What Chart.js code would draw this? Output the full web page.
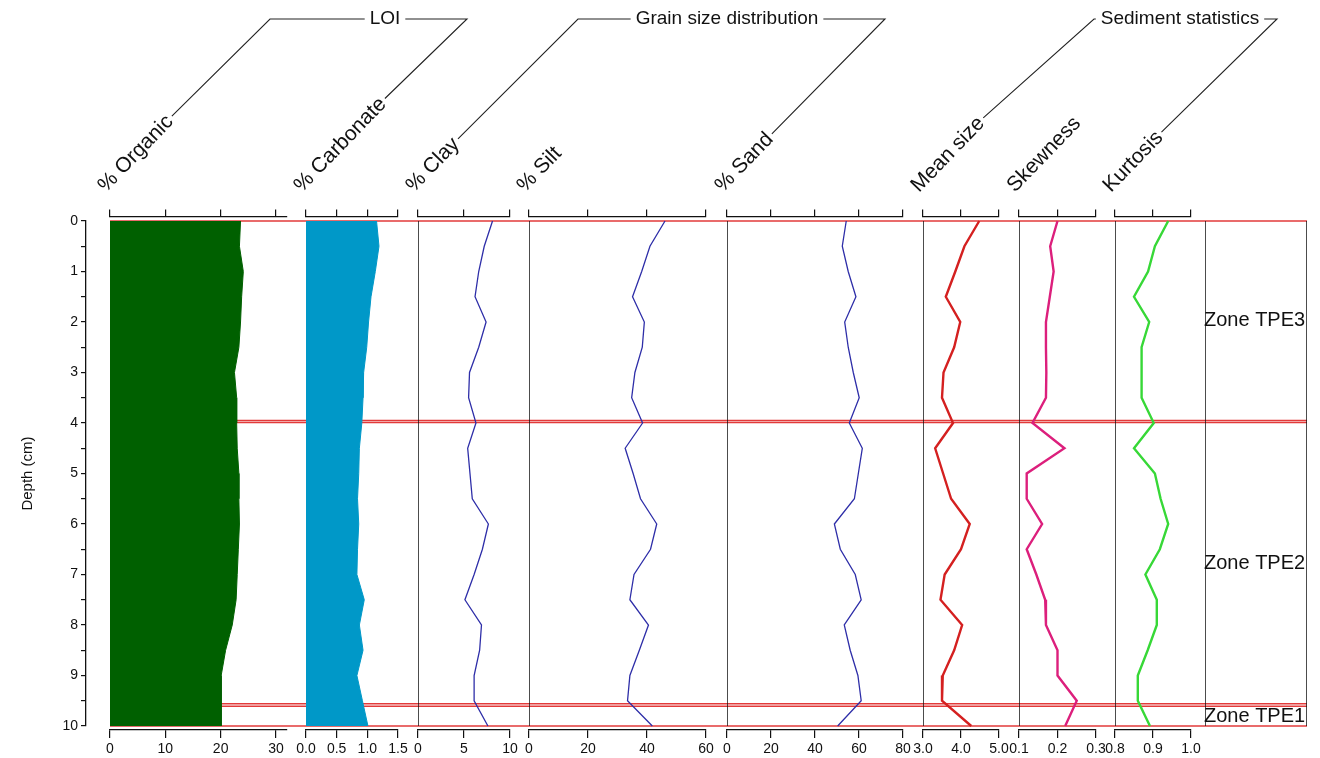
<!DOCTYPE html>
<html>
<head>
<meta charset="utf-8">
<script src="https://cdn.jsdelivr.net/npm/chart.js@4.4.0/dist/chart.umd.min.js"></script>
<style>
    html, body { margin: 0; padding: 0; background: #fff; }
    #wrap { position: relative; width: 1320px; height: 758px; overflow: hidden; }
    #wrap canvas { position: absolute; top: 0; }
</style>
</head>
<body>
<div id="wrap"></div>
<script>
// sample depths (cm)
const depths = [0, 0.5, 1, 1.5, 2, 2.5, 3, 3.5, 4, 4.5, 5, 5.5, 6, 6.5, 7, 7.5, 8, 8.5, 9, 9.5, 10];

// LOI
const organic = [23.6, 23.4, 24.1, 23.8, 23.6, 23.3, 22.5, 22.9, 22.9, 23.0, 23.3, 23.3, 23.4, 23.2, 23.0, 22.8, 22.1, 20.9, 20.1, 20.1, 20.1];
const carbonate = [1.15, 1.19, 1.13, 1.06, 1.02, 0.99, 0.94, 0.93, 0.91, 0.87, 0.86, 0.84, 0.86, 0.84, 0.83, 0.95, 0.87, 0.93, 0.83, 0.92, 1.01];

// Grain size distribution
const clay = [8.1, 7.2, 6.6, 6.2, 7.4, 6.6, 5.6, 5.5, 6.3, 5.4, 5.65, 5.9, 7.65, 7.0, 6.1, 5.1, 6.9, 6.7, 6.1, 6.1, 7.6];
const silt = [46.1, 41.0, 38.2, 35.1, 39.1, 38.4, 35.9, 34.8, 38.5, 32.6, 35.3, 37.8, 43.3, 41.2, 35.6, 34.2, 40.5, 37.4, 34.2, 33.4, 41.8];
const sand = [54.2, 52.4, 55.1, 58.6, 53.5, 55.1, 57.4, 60.1, 55.6, 61.5, 59.7, 57.9, 48.8, 51.5, 58.3, 61.0, 53.3, 56.0, 59.5, 61.0, 50.3];

// Sediment statistics
const meanSize = [4.48, 4.09, 3.85, 3.60, 3.98, 3.82, 3.54, 3.50, 3.79, 3.32, 3.53, 3.74, 4.23, 4.00, 3.57, 3.46, 4.03, 3.82, 3.52, 3.50, 4.27];
const skewness = [0.200, 0.181, 0.190, 0.180, 0.170, 0.170, 0.171, 0.170, 0.135, 0.218, 0.120, 0.120, 0.160, 0.120, 0.145, 0.168, 0.170, 0.200, 0.200, 0.250, 0.220];
const kurtosis = [0.940, 0.905, 0.887, 0.850, 0.890, 0.870, 0.870, 0.870, 0.902, 0.850, 0.905, 0.920, 0.940, 0.918, 0.880, 0.910, 0.910, 0.886, 0.860, 0.860, 0.892];

// zones (top / bottom depth, cm)
const zoneNames = ['Zone TPE3', 'Zone TPE2', 'Zone TPE1'];
const zoneTops = [0, 3.99, 9.61];
const zoneBottoms = [3.95, 9.56, 10];

const depthMin = 0, depthMax = 10, depthStep = 0.5;

// --- layout ---
const PAGE_W = 1320, PAGE_H = 758;
const DEPTH_TOP = 221, DEPTH_BOTTOM = 726;      // pixel rows of 0 cm and 10 cm
const AREA_TOP = 216.5, AREA_BOTTOM = 730;      // where the panel axes sit
const TOP_AXIS_H = 10, BOTTOM_AXIS_H = PAGE_H - AREA_BOTTOM;
const SIDE = 24;
const pxPerCm = (DEPTH_BOTTOM - DEPTH_TOP) / (depthMax - depthMin);
const yLow = depthMin - (DEPTH_TOP - AREA_TOP) / pxPerCm;
const yHigh = depthMax + (AREA_BOTTOM - DEPTH_BOTTOM) / pxPerCm;

const FONT = "Arial, 'Liberation Sans', sans-serif";
const INK = '#111';
const BLUE = '#2e2ea8';
const ZONE_RED = '#e23a3a';

const panels = [
    { title: '% Organic', values: organic, min: 0, max: 32, step: 10, digits: 0, left: 110, right: 287, color: '#006000', fill: true, width: 1, frame: false },
    { title: '% Carbonate', values: carbonate, min: 0, max: 1.5, step: 0.5, digits: 1, left: 306, right: 398, color: '#0098c8', fill: true, width: 1, frame: false },
    { title: '% Clay', values: clay, min: 0, max: 10, step: 5, digits: 0, left: 418, right: 510, color: BLUE, fill: false, width: 1.3, frame: true },
    { title: '% Silt', values: silt, min: 0, max: 60, step: 20, digits: 0, left: 529, right: 706, color: BLUE, fill: false, width: 1.3, frame: true },
    { title: '% Sand', values: sand, min: 0, max: 80, step: 20, digits: 0, left: 727, right: 903, color: BLUE, fill: false, width: 1.3, frame: true },
    { title: 'Mean size', values: meanSize, min: 3, max: 5, step: 1, digits: 1, left: 923, right: 999, color: '#d42020', fill: false, width: 2.4, frame: true },
    { title: 'Skewness', values: skewness, min: 0.1, max: 0.3, step: 0.1, digits: 1, left: 1019, right: 1096, color: '#dc1f7c', fill: false, width: 2.4, frame: true },
    { title: 'Kurtosis', values: kurtosis, min: 0.8, max: 1.0, step: 0.1, digits: 1, left: 1115, right: 1191, color: '#37d837', fill: false, width: 2.4, frame: true }
];
const ZONE_LEFT = 1205, ZONE_RIGHT = 1307;

// header groups (title + the panels it joins)
const groups = [
    { title: 'LOI', first: 0, last: 1, cx: 385, cornerL: 270, cornerR: 467 },
    { title: 'Grain size distribution', first: 2, last: 4, cx: 727, cornerL: 578, cornerR: 885 },
    { title: 'Sediment statistics', first: 5, last: 7, cx: 1180, cornerL: 1094, cornerR: 1277 }
];
const LABEL_BASE_Y = 193, LABEL_DX = -4, LABEL_ANGLE = -46 * Math.PI / 180, TITLE_Y = 19;

const wrap = document.getElementById('wrap');

function makeCanvas(left, width) {
    const c = document.createElement('canvas');
    c.width = width;
    c.height = PAGE_H;
    c.style.left = left + 'px';
    c.style.width = width + 'px';
    c.style.height = PAGE_H + 'px';
    wrap.appendChild(c);
    return c;
}

function depthScale() {
    return { type: 'linear', reverse: true, min: yLow, max: yHigh, display: false };
}

function panelAxis(p, position) {
    const bottom = position === 'bottom';
    return {
        type: 'linear',
        position: position,
        min: p.min,
        max: p.max,
        border: { color: INK, width: 1.2 },
        grid: { drawOnChartArea: false, drawTicks: true, tickLength: bottom ? 8 : 7, color: INK, lineWidth: 1.2 },
        ticks: {
            display: bottom,
            stepSize: p.step,
            includeBounds: false,
            autoSkip: false,
            maxRotation: 0,
            padding: 3,
            color: INK,
            font: { family: FONT, size: 14 },
            callback: v => Number(v).toFixed(p.digits)
        },
        afterFit: s => {
            s.height = bottom ? BOTTOM_AXIS_H : TOP_AXIS_H;
            s.paddingLeft = 0;
            s.paddingRight = 0;
        }
    };
}

const baseOptions = {
    responsive: false,
    animation: false,
    events: [],
    plugins: { legend: { display: false }, tooltip: { enabled: false } }
};

// --- frame: zone boundary lines and the header ---
const headerPlugin = {
    id: 'header',
    afterDraw(chart) {
        const ctx = chart.ctx;
        ctx.save();
        ctx.fillStyle = '#111';
        ctx.strokeStyle = '#222';
        ctx.lineWidth = 1.1;
        ctx.font = '21px ' + FONT;
        const ends = panels.map(p => {
            const ax = p.left + LABEL_DX, ay = LABEL_BASE_Y;
            ctx.save();
            ctx.translate(ax, ay);
            ctx.rotate(LABEL_ANGLE);
            ctx.textAlign = 'left';
            ctx.textBaseline = 'alphabetic';
            ctx.fillText(p.title, 0, 0);
            ctx.restore();
            const w = ctx.measureText(p.title).width + 3;
            const c = Math.cos(LABEL_ANGLE), s = Math.sin(LABEL_ANGLE);
            return { x: ax + w * c + 6 * s, y: ay + w * s - 6 * c };
        });
        ctx.font = '19px ' + FONT;
        ctx.textAlign = 'center';
        ctx.textBaseline = 'middle';
        groups.forEach(g => {
            const tw = ctx.measureText(g.title).width;
            ctx.fillText(g.title, g.cx, TITLE_Y);
            const a = ends[g.first], b = ends[g.last];
            ctx.beginPath();
            ctx.moveTo(a.x, a.y);
            ctx.lineTo(g.cornerL, TITLE_Y);
            ctx.lineTo(Math.max(g.cornerL, g.cx - tw / 2 - 5), TITLE_Y);
            ctx.moveTo(Math.min(g.cornerR, g.cx + tw / 2 + 5), TITLE_Y);
            ctx.lineTo(g.cornerR, TITLE_Y);
            ctx.lineTo(b.x, b.y);
            ctx.stroke();
        });
        ctx.restore();
    }
};

const boundaryDepths = zoneTops.concat(zoneBottoms);
new Chart(makeCanvas(0, PAGE_W), {
    type: 'line',
    data: {
        datasets: boundaryDepths.map(d => ({
            data: [{ x: 0, y: d }, { x: 1, y: d }],
            borderColor: ZONE_RED,
            borderWidth: 1.4,
            pointRadius: 0
        }))
    },
    options: Object.assign({}, baseOptions, {
        layout: { padding: { left: panels[0].left, right: PAGE_W - ZONE_RIGHT, top: AREA_TOP, bottom: PAGE_H - AREA_BOTTOM } },
        scales: {
            x: { type: 'linear', min: 0, max: 1, display: false },
            y: depthScale()
        }
    }),
    plugins: [headerPlugin]
});

// --- depth axis ---
new Chart(makeCanvas(0, 100), {
    type: 'line',
    data: { datasets: [] },
    options: Object.assign({}, baseOptions, {
        layout: { padding: { left: 0, right: 10, top: DEPTH_TOP, bottom: PAGE_H - DEPTH_BOTTOM } },
        scales: {
            x: { type: 'linear', min: 0, max: 1, display: false },
            y: {
                type: 'linear',
                position: 'left',
                reverse: true,
                min: depthMin,
                max: depthMax,
                border: { color: INK, width: 1.3 },
                grid: { drawOnChartArea: false, drawTicks: true, tickLength: 5, color: INK, lineWidth: 1.2 },
                ticks: {
                    stepSize: depthStep,
                    autoSkip: false,
                    padding: 3,
                    color: INK,
                    font: { family: FONT, size: 14 },
                    callback: v => Number.isInteger(v) ? String(v) : ''
                },
                title: { display: true, text: 'Depth (cm)', color: INK, font: { family: FONT, size: 15 }, padding: { top: 19 } },
                afterFit: s => { s.width = 86; }
            }
        }
    })
});

// --- data panels ---
panels.forEach(p => {
    const datasets = [{
        data: depths.map((d, i) => ({ x: p.values[i], y: d })),
        xAxisID: 'x',
        yAxisID: 'y',
        borderColor: p.color,
        backgroundColor: p.color,
        borderWidth: p.width,
        fill: p.fill ? 'origin' : false,
        pointRadius: 0,
        tension: 0
    }];
    if (p.frame) {
        datasets.push({
            data: [{ x: p.min, y: depths[0] }, { x: p.min, y: depths[depths.length - 1] }],
            xAxisID: 'x',
            yAxisID: 'y',
            borderColor: INK,
            borderWidth: 1.5,
            pointRadius: 0
        });
    }
    new Chart(makeCanvas(p.left - SIDE, p.right - p.left + 2 * SIDE), {
        type: 'line',
        data: { datasets },
        options: Object.assign({}, baseOptions, {
            indexAxis: 'y',
            layout: { padding: { left: SIDE, right: SIDE, top: AREA_TOP - TOP_AXIS_H, bottom: 0 } },
            scales: {
                x: panelAxis(p, 'bottom'),
                xTop: panelAxis(p, 'top'),
                y: depthScale()
            }
        })
    });
});

// --- zone column ---
const zoneLabels = {
    id: 'zoneLabels',
    afterDatasetsDraw(chart) {
        const ctx = chart.ctx, y = chart.scales.y;
        ctx.save();
        ctx.fillStyle = '#111';
        ctx.font = '20px ' + FONT;
        ctx.textAlign = 'left';
        ctx.textBaseline = 'middle';
        zoneNames.forEach((name, i) => {
            ctx.fillText(name, chart.chartArea.left - 1, y.getPixelForValue((zoneTops[i] + zoneBottoms[i]) / 2));
        });
        ctx.restore();
    }
};
new Chart(makeCanvas(ZONE_LEFT - SIDE, ZONE_RIGHT - ZONE_LEFT + 2 * SIDE - 11), {
    type: 'line',
    data: {
        datasets: [0, 1].map(x => ({
            data: [{ x: x, y: depths[0] }, { x: x, y: depths[depths.length - 1] }],
            borderColor: INK,
            borderWidth: 1.5,
            pointRadius: 0
        }))
    },
    options: Object.assign({}, baseOptions, {
        indexAxis: 'y',
        layout: { padding: { left: SIDE, right: SIDE - 11, top: AREA_TOP, bottom: PAGE_H - AREA_BOTTOM } },
        scales: {
            x: { type: 'linear', min: 0, max: 1, display: false },
            y: depthScale()
        }
    }),
    plugins: [zoneLabels]
});
</script>
</body>
</html>
